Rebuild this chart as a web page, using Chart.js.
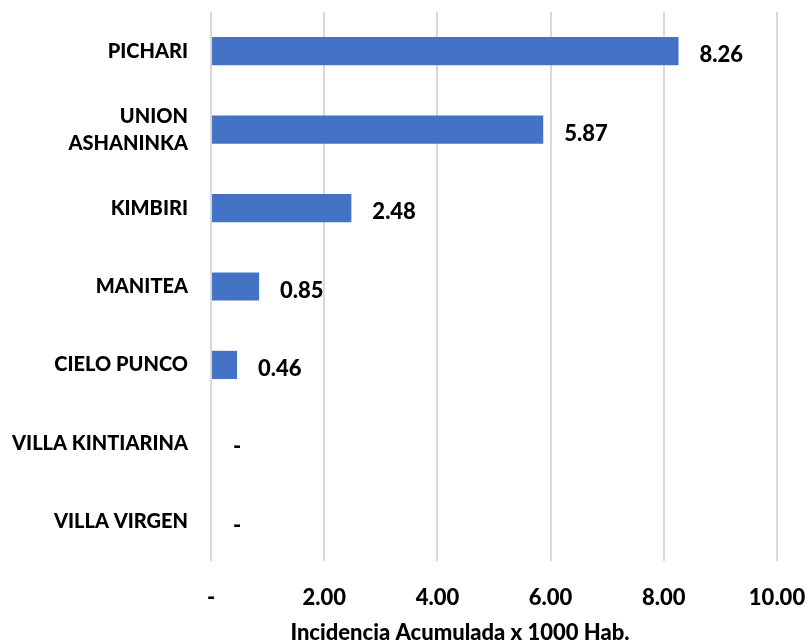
<!DOCTYPE html>
<html>
<head>
<meta charset="utf-8">
<script src="https://cdn.jsdelivr.net/npm/chart.js@4"></script>
<style>
  html, body { margin: 0; padding: 0; background: #fff; }
  #wrap { width: 808px; height: 643px; }
</style>
</head>
<body>
<div id="wrap"><canvas id="grafico" width="808" height="643"></canvas></div>
<script>
// datos
const distritos = ['PICHARI', ['UNION', 'ASHANINKA'], 'KIMBIRI', 'MANITEA', 'CIELO PUNCO', 'VILLA KINTIARINA', 'VILLA VIRGEN'];
const incidencia = [8.26, 5.87, 2.48, 0.85, 0.46, 0, 0];
const ticksX = [0, 2, 4, 6, 8, 10];
const tituloX = 'Incidencia Acumulada x 1000 Hab.';

const fuente = 'Lato, "Open Sans", sans-serif';

function fmt(v) {
  return v === 0 ? '-' : v.toFixed(2);
}

// quita el relleno que Chart.js agrega por las etiquetas
function sinRelleno(s) {
  s.paddingTop = 0;
  s.paddingBottom = 0;
  s.paddingLeft = 0;
  s.paddingRight = 0;
}

// etiquetas de valor al lado de cada barra
const etiquetas = {
  id: 'etiquetas',
  afterDatasetsDraw(chart) {
    const ctx = chart.ctx;
    const meta = chart.getDatasetMeta(0);
    ctx.save();
    ctx.font = '900 22px ' + fuente;
    ctx.fillStyle = '#000';
    ctx.textAlign = 'left';
    ctx.textBaseline = 'middle';
    meta.data.forEach((bar, i) => {
      const v = incidencia[i];
      ctx.fillText(fmt(v), bar.x + (v === 0 ? 22 : 21), bar.y + 4);
    });
    ctx.restore();
  }
};

// titulo del eje x (no centrado en el area del grafico en el original)
const tituloEje = {
  id: 'tituloEje',
  afterDraw(chart) {
    const ctx = chart.ctx;
    ctx.save();
    ctx.font = '900 22px ' + fuente;
    ctx.fillStyle = '#000';
    ctx.textAlign = 'center';
    ctx.textBaseline = 'middle';
    ctx.fillText(tituloX, 460, 633);
    ctx.restore();
  }
};

new Chart(document.getElementById('grafico'), {
  type: 'bar',
  data: {
    labels: distritos,
    datasets: [{
      data: incidencia,
      backgroundColor: '#4472C4',
      barPercentage: 0.36,
      categoryPercentage: 1
    }]
  },
  options: {
    indexAxis: 'y',
    responsive: false,
    animation: false,
    layout: { padding: { top: 12, right: 31, left: 0, bottom: 0 } },
    plugins: {
      legend: { display: false },
      tooltip: { enabled: false }
    },
    scales: {
      x: {
        min: 0,
        max: 10,
        afterFit: s => { s.height = 82; sinRelleno(s); },
        afterBuildTicks: s => { s.ticks = ticksX.map(v => ({ value: v })); },
        grid: { color: '#d9d9d9', lineWidth: 2, drawTicks: false },
        border: { display: false },
        ticks: {
          padding: 24,
          color: '#000',
          font: { family: fuente, size: 22, weight: '900' },
          callback: v => fmt(v)
        }
      },
      y: {
        afterFit: s => { s.width = 211; sinRelleno(s); },
        grid: { display: false, drawTicks: false },
        border: { display: false },
        ticks: {
          padding: 23,
          color: '#000',
          font: { family: fuente, size: 20, weight: '900', lineHeight: 1.35 }
        }
      }
    }
  },
  plugins: [etiquetas, tituloEje]
});
</script>
</body>
</html>
